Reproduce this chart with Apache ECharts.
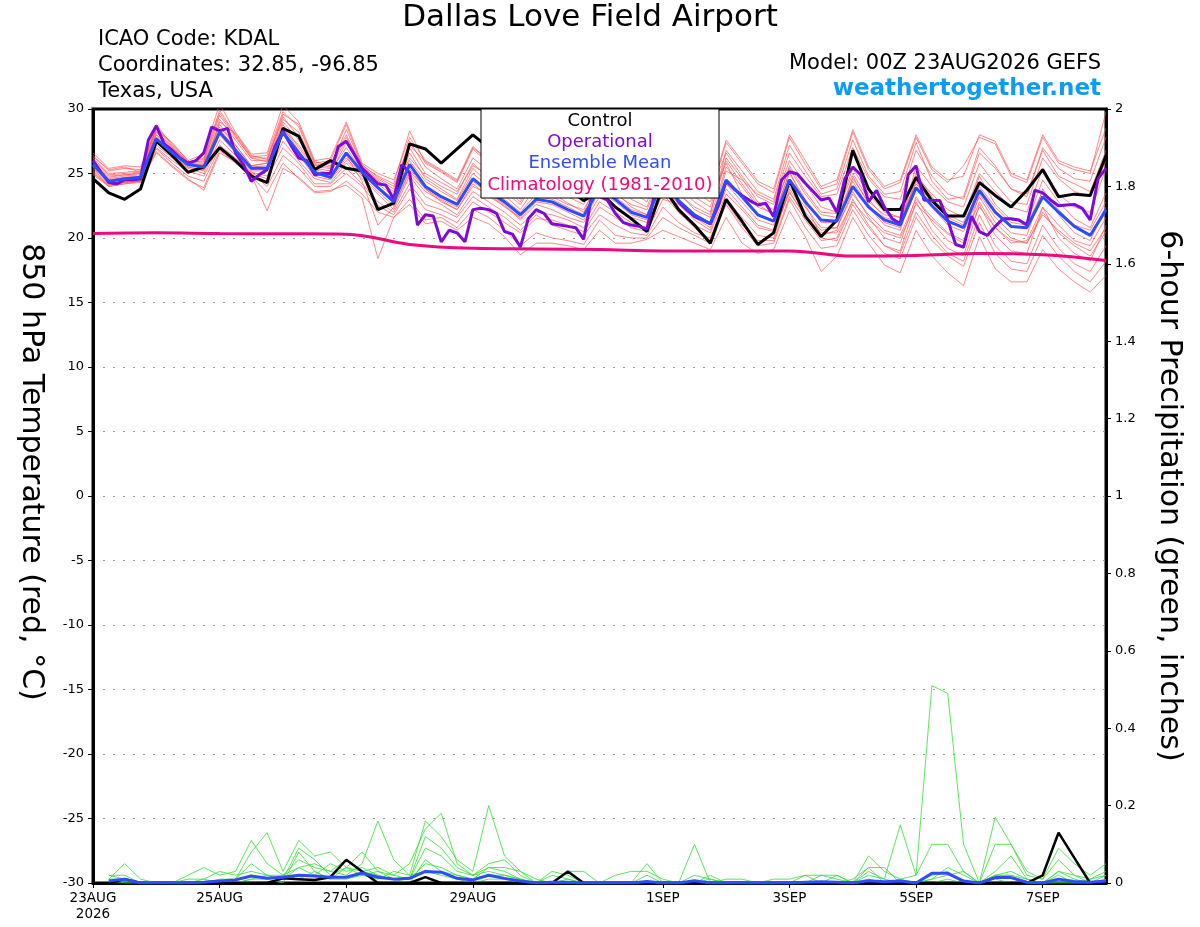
<!DOCTYPE html>
<html>
<head>
<meta charset="utf-8">
<script src="https://cdn.jsdelivr.net/npm/echarts@6/dist/echarts.min.js"></script>
<style>
  html, body { margin: 0; padding: 0; background: #fff; }
  #chart { width: 1200px; height: 927px; }
</style>
</head>
<body>
<div id="chart"></div>
<script>
// time axis in forecast hours from 00Z 23AUG2026
const xTickHours = [0, 48, 96, 144, 216, 264, 312, 360];
const xTickLabels = ['23AUG\n2026', '25AUG', '27AUG', '29AUG', '1SEP', '3SEP', '5SEP', '7SEP'];

// 850 hPa temperature, 6-hourly (0..384 h)
const controlTemp = [
  24.6, 23.5, 23.0, 23.8, 27.5, 26.4, 25.1, 25.5, 27.0, 26.0, 24.8, 24.3, 28.5, 27.9, 25.3, 26.0,
  25.4, 25.2, 22.2, 22.7, 27.3, 26.9, 25.8, 26.9, 28.0, 27.0, 25.8, 24.5, 25.6, 24.8, 23.8, 22.9,
  23.6, 22.4, 21.5, 20.5, 24.0, 22.2, 21.0, 19.6, 23.0, 21.3, 19.5, 20.4, 24.5, 21.7, 20.1, 21.4,
  26.8, 23.8, 22.2, 22.2, 24.7, 22.9, 21.7, 21.7, 24.3, 23.3, 22.4, 23.7, 25.3, 23.2, 23.4, 23.3, 26.4
];
const meanTemp = [
  25.7, 24.4, 24.6, 24.7, 27.7, 26.6, 25.7, 25.5, 28.2, 26.8, 25.4, 25.4, 28.2, 26.6, 25.1, 24.7,
  26.6, 25.1, 23.9, 22.8, 25.7, 24.0, 23.2, 22.6, 24.6, 23.6, 22.8, 21.8, 23.0, 22.8, 22.2, 21.7,
  23.9, 23.0, 22.0, 21.6, 24.4, 22.9, 21.8, 21.1, 24.5, 23.2, 21.8, 21.3, 24.5, 22.8, 21.4, 21.3,
  24.0, 22.4, 21.4, 21.0, 23.9, 22.5, 21.3, 20.8, 23.7, 22.0, 20.9, 20.8, 23.2, 22.0, 20.9, 20.2, 22.2
];
// operational run, 3-hourly (0..384 h)
const operTemp = [
  26.0, 25.1, 24.3, 24.2, 24.5, 24.5, 24.6, 27.6, 28.7, 27.3, 26.8, 26.2, 25.8, 26.0, 26.6, 28.6,
  28.3, 28.5, 26.6, 25.7, 24.4, 24.9, 25.3, 27.1, 28.3, 27.2, 26.2, 26.0, 24.9, 25.0, 25.0, 27.1,
  27.5, 26.5, 25.4, 24.8, 24.2, 24.1, 23.0, 25.7, 25.1, 21.0, 21.8, 21.7, 19.7, 20.6, 20.4, 19.7,
  22.2, 22.3, 22.2, 21.9, 20.5, 20.3, 19.3, 21.5, 22.2, 21.9, 21.1, 21.0, 20.9, 20.8, 19.9, 23.2,
  23.2, 22.95, 21.9, 21.2, 21.0, 20.9, 20.7, 23.5, 24.6, 23.8, 22.8, 22.2, 21.65, 21.4, 21.1, 22.5,
  24.4, 23.8, 23.3, 22.9, 22.56, 22.7, 21.65, 24.5, 25.14, 24.96, 24.24, 23.6, 22.95, 23.1, 22.0, 24.6,
  25.5, 24.9, 22.8, 23.7, 22.4, 21.5, 21.1, 24.9, 25.6, 22.95, 22.9, 22.9, 21.4, 19.5, 19.3, 21.7, 20.5,
  20.2, 20.9, 21.5, 21.5, 21.4, 21.0, 23.7, 23.5, 22.95, 22.5, 22.56, 22.6, 22.3, 21.4, 24.6, 25.4
];
// climatology, daily
const climTemp = [20.35, 20.4, 20.35, 20.33, 20.3, 19.5, 19.2, 19.15, 19.1, 19.0, 19.0, 19.0, 18.6, 18.65, 18.8, 18.7, 18.25];

// ensemble members, 6-hourly
const tempMembers = [
  [26.4, 25.2, 25.4, 25.3, 28.8, 27.2, 25.9, 26.2, 29.9, 28.0, 26.3, 26.4, 29.8, 28.6, 25.8, 26.0,
   28.8, 25.6, 24.8, 24.2, 28.3, 25.8, 25.1, 24.3, 26.9, 25.8, 24.7, 23.6, 26.2, 25.2, 24.2, 23.8,
   26.8, 25.7, 24.6, 23.7, 26.8, 25.2, 24.2, 23.3, 27.4, 25.8, 24.2, 23.5, 27.8, 25.7, 23.8, 24.2,
   28.2, 25.3, 23.8, 24.3, 27.8, 25.3, 24.3, 25.6, 27.8, 27.3, 24.8, 24.3, 27.8, 25.8, 25.3, 25.0, 29.8],
  [24.9, 24.0, 24.2, 24.4, 26.7, 25.6, 24.6, 23.7, 26.6, 25.9, 24.9, 22.1, 25.4, 24.7, 23.6, 23.7,
   24.1, 23.1, 18.4, 21.6, 22.6, 21.1, 21.3, 20.6, 21.6, 21.1, 20.1, 18.7, 19.6, 19.6, 19.4, 19.1,
   20.6, 19.6, 19.6, 19.9, 20.6, 20.1, 19.6, 19.1, 21.6, 19.6, 18.8, 19.1, 22.1, 20.1, 17.4, 18.6,
   21.6, 19.6, 17.9, 17.3, 20.6, 18.6, 17.3, 16.3, 20.1, 17.6, 16.6, 16.6, 19.1, 17.6, 16.6, 15.8, 17.1],
  [26.0, 24.8, 24.9, 25.0, 28.0, 26.9, 25.8, 25.8, 28.8, 27.2, 25.6, 25.8, 28.8, 27.0, 25.3, 25.0,
   27.4, 25.4, 24.2, 23.2, 26.6, 24.6, 23.8, 23.0, 25.4, 24.2, 23.3, 22.2, 24.0, 23.5, 22.7, 22.0,
   24.6, 23.6, 22.4, 21.8, 25.2, 23.5, 22.2, 21.6, 25.5, 24.0, 22.4, 21.9, 25.6, 23.6, 22.0, 21.9,
   25.4, 23.4, 22.0, 21.6, 25.0, 23.2, 21.8, 21.2, 24.8, 22.6, 21.4, 21.2, 24.5, 22.8, 21.5, 20.8, 23.5],
  [25.3, 24.2, 24.4, 24.5, 27.2, 26.2, 25.4, 25.0, 27.6, 26.4, 25.1, 24.8, 27.5, 26.0, 24.6, 24.3,
   25.8, 24.6, 23.4, 22.2, 24.8, 23.2, 22.6, 21.8, 23.6, 22.8, 22.0, 21.0, 22.0, 21.8, 21.4, 20.8,
   22.8, 22.0, 21.2, 20.8, 23.4, 22.0, 21.0, 20.4, 23.4, 22.2, 20.8, 20.5, 23.5, 21.8, 20.4, 20.4,
   22.8, 21.4, 20.4, 20.0, 22.6, 21.4, 20.3, 19.6, 22.4, 20.8, 19.8, 19.6, 21.8, 20.6, 19.6, 19.0, 20.8],
  [26.6, 25.4, 25.6, 25.5, 28.4, 27.4, 26.0, 26.5, 30.4, 28.2, 26.5, 26.6, 30.3, 29.0, 26.0, 26.2,
   29.0, 25.8, 25.0, 24.5, 27.8, 26.0, 25.3, 24.5, 27.1, 26.0, 25.0, 24.0, 26.5, 25.5, 24.5, 24.0,
   27.0, 26.0, 25.0, 24.0, 27.0, 25.5, 24.5, 23.5, 26.6, 24.8, 23.2, 22.6, 26.0, 24.2, 22.4, 22.0,
   25.0, 23.0, 21.6, 21.2, 24.4, 22.4, 21.0, 20.5, 23.2, 21.2, 20.0, 19.6, 22.0, 20.4, 19.4, 18.6, 20.5],
  [25.0, 24.1, 24.3, 24.4, 26.9, 25.8, 24.8, 24.4, 27.0, 26.0, 25.0, 24.0, 26.4, 25.4, 24.0, 24.0,
   25.0, 24.0, 22.5, 21.8, 23.8, 22.2, 21.8, 21.2, 22.8, 22.0, 21.2, 20.4, 21.5, 21.4, 21.0, 20.5,
   22.4, 21.6, 20.8, 20.5, 23.0, 22.6, 21.8, 21.2, 25.2, 24.5, 23.4, 22.8, 26.6, 24.8, 23.2, 23.4,
   27.0, 24.6, 23.2, 23.0, 26.8, 24.8, 23.4, 23.0, 26.6, 25.4, 23.8, 23.4, 26.8, 24.8, 24.2, 23.6, 26.8],
  [25.6, 24.5, 24.7, 24.8, 27.8, 26.5, 25.6, 25.6, 28.4, 27.0, 25.5, 25.6, 28.6, 26.8, 25.0, 24.8,
   26.4, 24.4, 21.0, 22.4, 25.2, 23.8, 22.8, 22.2, 24.0, 23.4, 22.4, 21.6, 23.2, 23.0, 22.4, 21.8,
   24.2, 23.2, 22.2, 21.8, 24.6, 22.8, 21.6, 20.8, 24.2, 22.8, 21.4, 21.0, 24.0, 22.4, 20.8, 20.8,
   23.4, 21.8, 20.6, 20.2, 23.0, 21.6, 20.4, 19.8, 22.8, 20.8, 19.6, 19.8, 22.4, 21.0, 19.8, 19.4, 21.6],
  [25.8, 24.6, 24.8, 24.9, 28.2, 27.0, 25.9, 25.9, 29.2, 27.6, 26.0, 26.0, 29.4, 27.8, 25.6, 25.8,
   28.0, 25.5, 24.6, 23.8, 27.5, 25.5, 24.6, 23.8, 26.2, 25.2, 24.2, 23.0, 25.4, 24.8, 23.8, 23.2,
   25.8, 24.6, 23.6, 22.8, 26.0, 24.2, 23.2, 22.4, 26.2, 24.6, 22.8, 22.2, 25.4, 23.4, 21.8, 21.6,
   24.6, 22.8, 21.8, 21.6, 24.2, 22.8, 21.6, 21.0, 24.0, 22.4, 21.2, 21.0, 23.6, 22.2, 21.0, 20.6, 22.8],
  [25.4, 24.3, 24.5, 24.6, 27.4, 26.3, 25.5, 25.2, 28.0, 26.6, 25.2, 25.2, 28.0, 26.4, 24.8, 24.5,
   26.0, 24.8, 23.6, 22.5, 25.0, 23.6, 22.9, 22.2, 24.2, 23.2, 22.5, 21.4, 22.6, 22.2, 21.6, 21.2,
   23.2, 22.4, 21.6, 21.2, 23.8, 22.0, 20.8, 19.8, 22.6, 20.8, 19.4, 19.6, 23.0, 20.8, 19.2, 19.4,
   22.2, 20.2, 18.8, 18.4, 21.6, 19.8, 18.6, 17.8, 21.2, 18.8, 17.6, 17.4, 20.2, 18.6, 17.4, 16.6, 18.2],
  [26.2, 25.0, 25.1, 25.2, 28.5, 27.1, 25.8, 26.0, 29.5, 27.8, 26.2, 26.2, 29.2, 28.2, 25.7, 25.5,
   28.4, 25.6, 24.4, 23.6, 26.2, 24.8, 24.0, 23.4, 25.8, 24.6, 23.6, 22.6, 24.6, 24.0, 23.2, 22.6,
   25.2, 24.2, 23.0, 22.4, 25.6, 24.0, 22.8, 22.0, 26.0, 24.2, 22.6, 21.8, 25.0, 23.0, 21.2, 21.2,
   24.4, 22.4, 21.0, 20.6, 24.8, 23.4, 22.2, 21.6, 25.0, 23.6, 22.4, 22.0, 25.4, 23.4, 22.4, 22.0, 25.4],
  [25.2, 24.1, 24.3, 24.4, 27.0, 26.0, 25.2, 24.8, 27.2, 26.2, 25.0, 24.6, 27.0, 25.8, 24.2, 24.2,
   25.4, 24.2, 22.8, 22.0, 24.2, 22.6, 22.2, 21.6, 23.2, 22.4, 21.6, 20.6, 21.8, 21.0, 20.6, 20.2,
   21.8, 21.0, 20.4, 20.2, 22.4, 21.2, 20.4, 20.0, 23.0, 21.6, 20.2, 20.0, 23.8, 22.0, 20.6, 20.8,
   23.6, 21.6, 20.0, 19.6, 23.2, 21.2, 19.8, 19.2, 23.4, 21.6, 20.4, 20.2, 23.8, 21.8, 20.4, 19.8, 22.4],
  [25.9, 24.7, 24.9, 25.0, 28.0, 26.8, 25.7, 25.7, 28.6, 27.2, 25.6, 25.8, 28.4, 27.2, 25.4, 25.2,
   27.0, 25.2, 24.0, 23.0, 26.0, 24.4, 23.6, 22.9, 25.0, 24.0, 23.0, 22.0, 23.4, 23.2, 22.6, 22.2,
   24.4, 23.4, 22.6, 22.2, 25.0, 23.4, 22.4, 21.8, 26.8, 25.2, 23.6, 23.0, 27.2, 25.2, 23.4, 23.8,
   27.6, 24.8, 23.4, 23.6, 27.4, 24.4, 23.0, 23.2, 27.0, 25.6, 23.8, 23.2, 27.0, 25.4, 24.6, 24.4, 27.8],
  [26.3, 25.3, 25.5, 25.1, 28.6, 27.3, 26.0, 25.3, 29.0, 28.1, 26.4, 26.1, 29.6, 28.8, 25.9, 25.6,
   27.8, 25.7, 24.7, 24.0, 27.2, 25.9, 25.2, 24.4, 27.0, 26.0, 24.9, 23.8, 25.8, 25.4, 24.4, 23.9,
   26.2, 25.9, 24.8, 23.9, 26.6, 25.4, 24.4, 23.4, 27.6, 26.0, 24.4, 23.8, 28.0, 26.0, 24.0, 24.5,
   28.4, 25.5, 24.0, 24.5, 28.0, 25.5, 24.5, 24.8, 28.0, 27.5, 25.0, 24.5, 28.0, 26.0, 25.5, 25.2, 28.5],
  [25.1, 24.0, 24.2, 24.3, 26.6, 25.5, 24.5, 23.9, 26.8, 25.8, 24.8, 23.5, 25.8, 24.6, 23.5, 23.6,
   24.4, 23.4, 22.0, 21.6, 23.0, 21.4, 21.6, 20.8, 22.2, 21.6, 20.6, 19.4, 20.4, 20.0, 19.8, 19.5,
   21.4, 20.2, 20.0, 20.0, 21.6, 20.8, 20.2, 19.6, 22.8, 21.0, 19.8, 19.8, 23.2, 21.4, 19.8, 20.0,
   23.0, 21.0, 19.4, 19.0, 22.8, 20.6, 19.2, 18.6, 22.6, 20.2, 19.0, 18.8, 22.4, 20.0, 18.8, 18.2, 21.0],
  [26.1, 24.9, 25.0, 25.1, 28.3, 27.0, 25.9, 26.1, 29.7, 27.9, 26.2, 25.9, 29.0, 27.6, 25.5, 25.4,
   27.6, 25.3, 24.5, 23.4, 27.0, 25.0, 24.3, 23.6, 25.6, 24.9, 23.9, 22.8, 24.8, 24.4, 23.6, 22.9,
   25.4, 24.9, 23.8, 23.2, 26.4, 24.6, 23.6, 22.8, 25.8, 23.4, 21.8, 21.4, 25.2, 22.6, 20.2, 20.6,
   24.8, 22.6, 21.2, 20.8, 25.6, 24.0, 22.8, 22.4, 25.8, 24.2, 22.8, 22.6, 26.2, 24.6, 23.6, 23.2, 26.0],
  [25.5, 24.4, 24.6, 24.6, 27.5, 26.4, 25.5, 25.3, 28.3, 26.9, 25.3, 25.3, 28.1, 26.5, 25.0, 24.6,
   26.2, 24.9, 23.8, 22.9, 25.4, 23.8, 23.0, 22.4, 24.4, 23.4, 22.6, 21.5, 22.8, 22.6, 22.0, 21.4,
   23.6, 22.8, 21.8, 21.4, 24.2, 22.6, 21.4, 20.6, 23.8, 22.4, 21.0, 20.6, 23.6, 21.6, 20.0, 19.8,
   22.6, 20.8, 19.4, 18.8, 22.0, 20.2, 18.8, 18.2, 21.8, 19.4, 18.2, 18.0, 21.0, 19.2, 18.0, 17.4, 19.4]
];

// 6-hour precipitation (inches), hours 6..384
const controlPrecip = [
  0, 0.01, 0, 0, 0, 0, 0, 0,
  0, 0, 0, 0.012, 0.01, 0.008, 0.015, 0.06,
  0.03, 0, 0, 0, 0.015, 0, 0, 0,
  0, 0, 0, 0, 0, 0.03, 0, 0,
  0, 0, 0, 0, 0, 0, 0, 0,
  0, 0, 0, 0, 0, 0, 0, 0,
  0, 0, 0, 0, 0, 0, 0, 0,
  0, 0, 0, 0.02, 0.13, 0.065, 0, 0
];
const meanPrecip = [
  0.005, 0.01, 0, 0, 0, 0, 0.002, 0.005,
  0.008, 0.018, 0.012, 0.015, 0.02, 0.018, 0.015, 0.015,
  0.026, 0.015, 0.01, 0.012, 0.03, 0.028, 0.012, 0.008,
  0.02, 0.012, 0.005, 0, 0.002, 0.002, 0, 0,
  0, 0, 0.004, 0, 0, 0.006, 0, 0,
  0, 0, 0, 0, 0.002, 0.003, 0.002, 0,
  0.006, 0.003, 0.005, 0, 0.025, 0.025, 0.005, 0,
  0.014, 0.014, 0.002, 0, 0.01, 0.004, 0.002, 0.005
];
const precipMembers = [
  [0.01, 0.05, 0.01, 0, 0, 0.02, 0.04, 0.02,
   0.03, 0.11, 0.05, 0.02, 0.06, 0.04, 0.03, 0.02,
   0.05, 0.16, 0.06, 0.02, 0.16, 0.12, 0.06, 0.03,
   0.2, 0.07, 0.03, 0, 0, 0.03, 0.03, 0,
   0, 0, 0, 0, 0, 0, 0.02, 0,
   0, 0, 0, 0, 0, 0, 0.02, 0,
   0.07, 0.03, 0.01, 0.02, 0.51, 0.49, 0.1, 0,
   0.02, 0.02, 0.01, 0, 0.03, 0.02, 0.01, 0.02],
  [0.02, 0.02, 0, 0, 0, 0, 0.01, 0,
   0.01, 0.08, 0.13, 0.03, 0.11, 0.07, 0.08, 0.04,
   0.08, 0.03, 0.02, 0.05, 0.14, 0.18, 0.05, 0.02,
   0.03, 0.02, 0.01, 0, 0.03, 0.02, 0, 0,
   0, 0, 0.05, 0, 0, 0.1, 0, 0,
   0, 0, 0, 0, 0, 0.02, 0.02, 0,
   0.03, 0.01, 0.15, 0.02, 0.1, 0.1, 0.03, 0,
   0.17, 0.1, 0.03, 0.01, 0.09, 0.05, 0.02, 0.05],
  [0.01, 0.01, 0, 0, 0, 0.01, 0.01, 0.03,
   0.02, 0.03, 0.02, 0.01, 0.09, 0.06, 0.02, 0.04,
   0.03, 0.04, 0.02, 0.01, 0.12, 0.09, 0.04, 0.02,
   0.05, 0.06, 0.02, 0, 0, 0.01, 0, 0,
   0.02, 0.03, 0.03, 0.01, 0, 0, 0.01, 0,
   0, 0, 0, 0, 0, 0, 0, 0.01,
   0.04, 0, 0.01, 0, 0.01, 0.02, 0.03, 0,
   0.1, 0.1, 0.02, 0.01, 0.06, 0.02, 0, 0.02],
  [0.02, 0.01, 0, 0, 0, 0, 0, 0.01,
   0.01, 0.05, 0.02, 0.02, 0.04, 0.02, 0.05, 0.03,
   0.04, 0.02, 0.01, 0.01, 0.09, 0.07, 0.03, 0.02,
   0.04, 0.04, 0.03, 0.01, 0, 0, 0, 0,
   0, 0, 0, 0, 0, 0.02, 0.01, 0,
   0, 0, 0.01, 0.01, 0.02, 0, 0, 0,
   0.02, 0.01, 0, 0, 0.02, 0.03, 0, 0,
   0.03, 0.07, 0.01, 0, 0.03, 0.01, 0, 0],
  [0, 0.01, 0, 0, 0, 0, 0, 0,
   0.01, 0.02, 0.01, 0, 0.08, 0.03, 0.01, 0.01,
   0.02, 0.03, 0.01, 0.01, 0.05, 0.04, 0.02, 0.01,
   0.02, 0.02, 0.01, 0, 0, 0, 0, 0,
   0, 0, 0.02, 0, 0, 0, 0, 0,
   0, 0, 0, 0, 0.02, 0.02, 0.01, 0,
   0.04, 0.04, 0, 0, 0, 0.01, 0, 0,
   0.02, 0.02, 0, 0, 0.02, 0, 0, 0.01],
  [0, 0, 0, 0, 0, 0, 0, 0,
   0, 0.01, 0.02, 0.01, 0.04, 0.05, 0.03, 0.06,
   0.03, 0.02, 0.01, 0, 0.06, 0.03, 0.02, 0.01,
   0.04, 0.03, 0.01, 0, 0, 0, 0, 0,
   0, 0, 0, 0, 0, 0, 0, 0,
   0, 0, 0, 0, 0, 0, 0, 0,
   0, 0, 0, 0, 0.01, 0.04, 0.02, 0,
   0.02, 0.03, 0.01, 0, 0, 0, 0.01, 0.03],
  [0.01, 0, 0, 0, 0, 0, 0, 0,
   0, 0.01, 0.01, 0.02, 0.01, 0.03, 0.01, 0.04,
   0.02, 0.01, 0.03, 0.02, 0.03, 0.02, 0.01, 0,
   0.01, 0.01, 0, 0, 0.02, 0.01, 0, 0,
   0, 0, 0, 0, 0, 0, 0, 0.01,
   0.01, 0, 0, 0, 0, 0, 0, 0,
   0.01, 0, 0, 0, 0, 0, 0, 0,
   0.01, 0, 0, 0, 0, 0, 0, 0]
];

const hours6 = Array.from({ length: 65 }, (_, i) => i * 6);
const hours3 = Array.from({ length: 129 }, (_, i) => i * 3);
const hours24 = Array.from({ length: 17 }, (_, i) => i * 24);
const hoursPrecip = hours6.slice(1);

const pairs = (hs, vs) => vs.map((v, i) => [hs[i], v]);

const FONT = '"DejaVu Sans", Verdana, sans-serif';

const chart = echarts.init(document.getElementById('chart'), null, { renderer: 'canvas' });

const series = [];
tempMembers.forEach((m) => {
  series.push({
    type: 'line', data: pairs(hours6, m), yAxisIndex: 0, symbol: 'none', silent: true,
    lineStyle: { color: '#ff5050', width: 0.8, opacity: 0.85 }, z: 1
  });
});
precipMembers.forEach((m) => {
  series.push({
    type: 'line', data: pairs(hoursPrecip, m), yAxisIndex: 1, symbol: 'none', silent: true,
    lineStyle: { color: '#33dd33', width: 0.8 }, z: 1
  });
});
series.push(
  { name: 'Climatology (1981-2010)', type: 'line', data: pairs(hours24, climTemp), yAxisIndex: 0,
    symbol: 'none', smooth: 0.4, lineStyle: { color: '#ee0a7e', width: 3 }, z: 3 },
  { name: 'Control', type: 'line', data: pairs(hours6, controlTemp), yAxisIndex: 0,
    symbol: 'none', lineStyle: { color: '#000', width: 3 }, z: 3 },
  { name: 'Operational', type: 'line', data: pairs(hours3, operTemp), yAxisIndex: 0,
    symbol: 'none', lineStyle: { color: '#7d0ad8', width: 3 }, z: 4 },
  { name: 'Ensemble Mean', type: 'line', data: pairs(hours6, meanTemp), yAxisIndex: 0,
    symbol: 'none', lineStyle: { color: '#2d4cff', width: 3 }, z: 5 },
  { name: 'Control precip', type: 'line', data: pairs(hoursPrecip, controlPrecip), yAxisIndex: 1,
    symbol: 'none', lineStyle: { color: '#000', width: 2.5 }, z: 3 },
  { name: 'Mean precip', type: 'line', data: pairs(hoursPrecip, meanPrecip), yAxisIndex: 1,
    symbol: 'none', lineStyle: { color: '#2d4cff', width: 3 }, z: 4 }
);

const txt = (text, x, y, size, opts) => Object.assign({
  type: 'text', x: x, y: y, z: 100,
  style: Object.assign({
    text: text, fill: '#000', font: size + 'px ' + FONT,
    align: 'left', verticalAlign: 'middle', textAlign: 'left', textVerticalAlign: 'middle'
  }, (opts && opts.style) || {})
}, (opts && opts.el) || {});

const center = { align: 'center', textAlign: 'center' };
const right = { align: 'right', textAlign: 'right' };

const option = {
  animation: false,
  backgroundColor: '#fff',
  textStyle: { fontFamily: FONT },
  grid: {
    left: 93, right: 94, top: 109, bottom: 44,
    show: true, borderColor: '#000', borderWidth: 3, backgroundColor: '#fff',
    containLabel: false, outerBoundsMode: 'none'
  },
  xAxis: {
    type: 'value', min: 0, max: 384,
    axisLine: { show: true, onZero: false, lineStyle: { color: '#000', width: 3 } },
    axisTick: { show: true, inside: false, length: 5, customValues: xTickHours, lineStyle: { color: '#000', width: 1 } },
    axisLabel: {
      customValues: xTickHours, color: '#000', fontSize: 13.5, fontFamily: FONT, margin: 7, lineHeight: 16,
      formatter: (v) => xTickLabels[xTickHours.indexOf(v)] || ''
    },
    splitLine: { show: false }
  },
  yAxis: [
    {
      type: 'value', min: -30, max: 30, interval: 5, position: 'left',
      axisLine: { show: true, onZero: false, lineStyle: { color: '#000', width: 3 } },
      axisTick: { show: true, inside: false, length: 5, lineStyle: { color: '#000', width: 1 } },
      axisLabel: { color: '#000', fontSize: 13, fontFamily: FONT, margin: 9 },
      splitLine: {
        show: true, showMinLine: false, showMaxLine: false,
        lineStyle: { color: '#999999', width: 1, type: [2, 8] }
      }
    },
    {
      type: 'value', min: 0, max: 2, interval: 0.2, position: 'right',
      axisLine: { show: true, onZero: false, lineStyle: { color: '#000', width: 3 } },
      axisTick: { show: true, inside: false, length: 5, lineStyle: { color: '#000', width: 1 } },
      axisLabel: { color: '#000', fontSize: 13, fontFamily: FONT, margin: 9 },
      splitLine: { show: false }
    }
  ],
  graphic: [
    txt('Dallas Love Field Airport', 590, 18, 31, { style: center }),
    txt('ICAO Code: KDAL', 98, 40, 21),
    txt('Coordinates: 32.85, -96.85', 98, 66, 21),
    txt('Texas, USA', 98, 92, 21),
    txt('Model: 00Z 23AUG2026 GEFS', 1101, 64, 21, { style: right }),
    txt('weathertogether.net', 1101, 89, 23, { style: Object.assign({ fill: '#0b9cf6', font: 'bold 23px ' + FONT }, right) }),
    txt('850 hPa Temperature (red, \u00B0C)', 31, 472, 30, { style: center, el: { rotation: -Math.PI / 2 } }),
    txt('6-hour Precipitation (green, inches)', 1169, 496, 30, { style: center, el: { rotation: -Math.PI / 2 } }),
    {
      type: 'rect', z: 99,
      shape: { x: 481, y: 109, width: 238, height: 89 },
      style: { fill: '#fff', stroke: '#000', lineWidth: 1 }
    },
    txt('Control', 600, 121, 18, { style: center }),
    txt('Operational', 600, 142, 18, { style: Object.assign({ fill: '#7d0ad8' }, center) }),
    txt('Ensemble Mean', 600, 163, 18, { style: Object.assign({ fill: '#2d4cff' }, center) }),
    txt('Climatology (1981-2010)', 600, 185, 18, { style: Object.assign({ fill: '#ee0a7e' }, center) })
  ],
  series: series
};

chart.setOption(option);
</script>
</body>
</html>
